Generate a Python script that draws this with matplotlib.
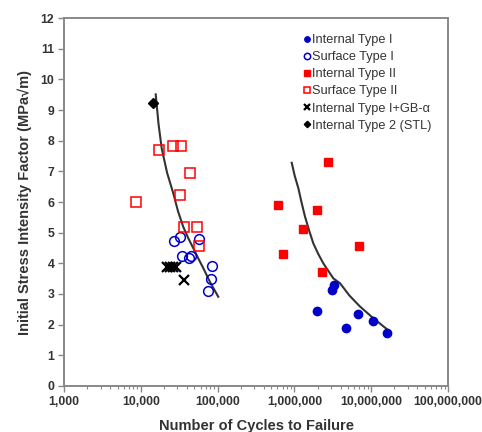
import numpy as np
import matplotlib
matplotlib.use("Agg")
import matplotlib.pyplot as plt
from matplotlib.ticker import FuncFormatter, LogLocator, MultipleLocator

plt.rcParams["font.family"] = ["Liberation Sans", "DejaVu Sans"]

# cycles to failure and initial stress intensity factor (MPa*sqrt(m))
int1_n = [1.99e6, 3.25e6, 3.12e6, 4.65e6, 6.79e6, 1.045e7, 1.61e7]
int1_k = [2.45, 3.29, 3.13, 1.89, 2.36, 2.12, 1.74]

surf1_n = [26800, 32400, 56600, 34700, 42500, 45100, 83800, 82000, 74300]
surf1_k = [4.74, 4.85, 4.80, 4.24, 4.16, 4.24, 3.92, 3.50, 3.11]

int2_n = [611000, 711000, 1295000, 1990000, 2740000, 2310000, 6870000]
int2_k = [5.90, 4.32, 5.12, 5.74, 7.29, 3.72, 4.56]

surf2_n = [8750, 17260, 26250, 33700, 43300, 32100, 36600, 54500, 57300]
surf2_k = [6.01, 7.70, 7.83, 7.81, 6.96, 6.23, 5.19, 5.19, 4.57]

gb_n = [22100, 24300, 26300, 29000, 36100]
gb_k = [3.87, 3.87, 3.89, 3.89, 3.45]

stl_n = [14550]
stl_k = [9.22]

# trend lines
fit_a_n = [15630, 17000, 18700, 22000, 26500, 30500, 35700, 41500, 48300, 56000, 65200, 80000, 102000]
fit_a_k = [9.51, 8.55, 7.75, 6.95, 6.28, 5.70, 5.19, 4.82, 4.49, 4.16, 3.84, 3.38, 2.91]
fit_b_n = [922000, 1010000, 1125000, 1240000, 1375000, 1560000, 1762000, 2050000, 2378000,
           3210000, 3930000, 5200000, 7150000, 1.065e7, 1.76e7]
fit_b_k = [7.28, 6.85, 6.45, 5.98, 5.52, 5.06, 4.65, 4.30, 4.00, 3.51, 3.35, 2.95, 2.59, 2.21, 1.77]

blue, red = "#0000c8", "#ff0000"

fig = plt.figure(figsize=(4.82, 4.32), dpi=100)
ax = fig.add_axes([0.1328, 0.1065, 0.7967, 0.8518])

ax.plot(fit_a_n, fit_a_k, color="#333333", lw=1.5, zorder=1)
ax.plot(fit_b_n, fit_b_k, color="#333333", lw=1.5, zorder=1)

ax.plot(int1_n, int1_k, "o", ms=6, color=blue, label="Internal Type I")
ax.plot(surf1_n, surf1_k, "o", ms=7, mfc="none", mec=blue, mew=1.1, label="Surface Type I")
ax.plot(int2_n, int2_k, "s", ms=6.2, color=red, label="Internal Type II")
ax.plot(surf2_n, surf2_k, "s", ms=7, mfc="none", mec=red, mew=1.1, label="Surface Type II")
ax.plot(gb_n, gb_k, "x", ms=6.5, color="black", mew=1.6, label="Internal Type I+GB-\u03b1")
ax.plot(stl_n, stl_k, "D", ms=5, color="black", label="Internal Type 2 (STL)")

ax.set_xscale("log")
ax.set_xlim(1e3, 1e8)
ax.set_ylim(0, 12)
ax.yaxis.set_major_locator(MultipleLocator(1))
ax.xaxis.set_major_locator(LogLocator(base=10))
ax.xaxis.set_minor_locator(LogLocator(base=10, subs=np.arange(2, 10)))
ax.xaxis.set_major_formatter(FuncFormatter(lambda v, p: f"{v:,.0f}"))

for s in ax.spines.values():
    s.set_color("#888888")
    s.set_linewidth(1.4)
ax.tick_params(axis="both", which="major", direction="out", length=4, width=1,
               color="#888888", labelsize=8.8, labelcolor="#333333", pad=3)
ax.tick_params(axis="x", which="minor", direction="out", length=2.5, width=0.8, color="#888888")
for t in ax.get_xticklabels() + ax.get_yticklabels():
    t.set_fontweight("bold")

ax.set_xlabel("Number of Cycles to Failure", fontsize=10.5, fontweight="bold",
              color="#333333", labelpad=8)
ax.set_ylabel("Initial Stress Intensity Factor (MPa\u221am)", fontsize=10.5,
              fontweight="bold", color="#333333", labelpad=6)

ax.legend(loc="upper left", bbox_to_anchor=(0.61, 0.97), frameon=False, fontsize=9.2,
          handlelength=0.6, handletextpad=0.1, labelspacing=0.4, markerscale=0.65,
          labelcolor="#333333", borderaxespad=0)

fig.savefig("out.png", dpi=100)
